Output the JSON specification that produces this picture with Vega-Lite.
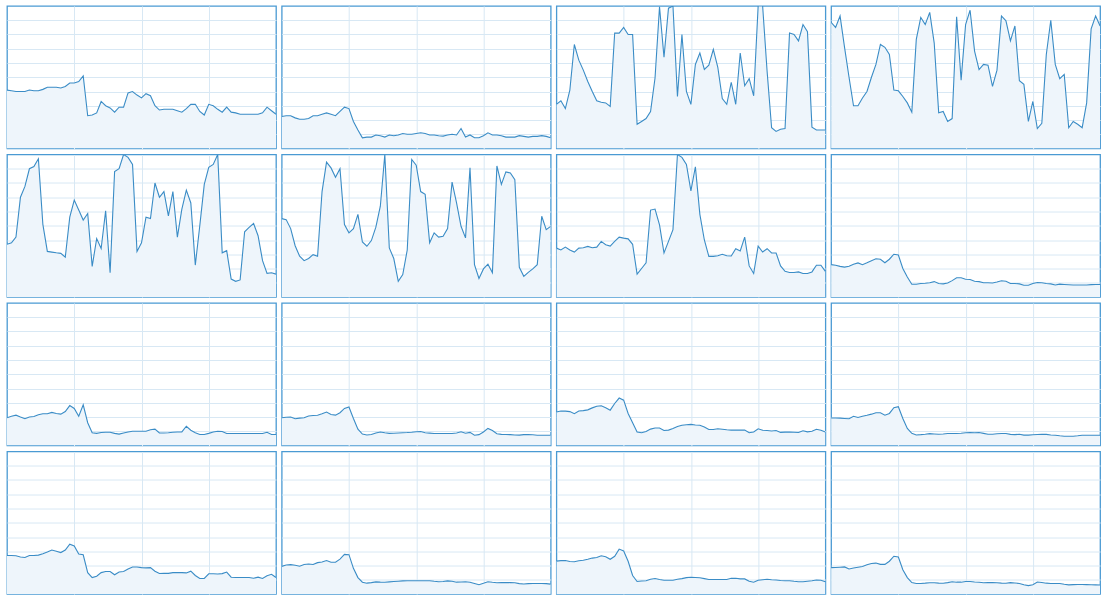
{
"$schema": "https://vega.github.io/schema/vega-lite/v6.json",
"padding": {"left": 6, "top": 5, "right": 0, "bottom": 0},
"background": "white",
"data": {"values": [
{"c":1,"t":0,"v":41},{"c":1,"t":1,"v":40.5},{"c":1,"t":2,"v":40},{"c":1,"t":3,"v":40},{"c":1,"t":4,"v":40},{"c":1,"t":5,"v":41},{"c":1,"t":6,"v":40.5},{"c":1,"t":7,"v":40.5},{"c":1,"t":8,"v":41.5},{"c":1,"t":9,"v":43},{"c":1,"t":10,"v":43},{"c":1,"t":11,"v":43},{"c":1,"t":12,"v":42.5},{"c":1,"t":13,"v":43.5},{"c":1,"t":14,"v":46},{"c":1,"t":15,"v":46},{"c":1,"t":16,"v":47},{"c":1,"t":17,"v":51},{"c":1,"t":18,"v":23},{"c":1,"t":19,"v":23.5},{"c":1,"t":20,"v":25},{"c":1,"t":21,"v":33},{"c":1,"t":22,"v":30},{"c":1,"t":23,"v":28.5},{"c":1,"t":24,"v":25.5},{"c":1,"t":25,"v":29},{"c":1,"t":26,"v":29},{"c":1,"t":27,"v":39},{"c":1,"t":28,"v":40},{"c":1,"t":29,"v":37.5},{"c":1,"t":30,"v":35.5},{"c":1,"t":31,"v":38.5},{"c":1,"t":32,"v":37},{"c":1,"t":33,"v":30},{"c":1,"t":34,"v":27},{"c":1,"t":35,"v":27.5},{"c":1,"t":36,"v":27.5},{"c":1,"t":37,"v":27.5},{"c":1,"t":38,"v":26.5},{"c":1,"t":39,"v":25.5},{"c":1,"t":40,"v":28},{"c":1,"t":41,"v":31},{"c":1,"t":42,"v":31},{"c":1,"t":43,"v":26},{"c":1,"t":44,"v":23.5},{"c":1,"t":45,"v":31},{"c":1,"t":46,"v":30},{"c":1,"t":47,"v":27.5},{"c":1,"t":48,"v":25.5},{"c":1,"t":49,"v":29},{"c":1,"t":50,"v":25.5},{"c":1,"t":51,"v":25},{"c":1,"t":52,"v":24},{"c":1,"t":53,"v":24},{"c":1,"t":54,"v":24},{"c":1,"t":55,"v":24},{"c":1,"t":56,"v":24},{"c":1,"t":57,"v":25},{"c":1,"t":58,"v":29},{"c":1,"t":59,"v":26.5},{"c":1,"t":60,"v":24},
{"c":2,"t":0,"v":22.5},{"c":2,"t":1,"v":23},{"c":2,"t":2,"v":23},{"c":2,"t":3,"v":21.5},{"c":2,"t":4,"v":20.5},{"c":2,"t":5,"v":20.5},{"c":2,"t":6,"v":21},{"c":2,"t":7,"v":23},{"c":2,"t":8,"v":23},{"c":2,"t":9,"v":24},{"c":2,"t":10,"v":25},{"c":2,"t":11,"v":24},{"c":2,"t":12,"v":23},{"c":2,"t":13,"v":26},{"c":2,"t":14,"v":29},{"c":2,"t":15,"v":28},{"c":2,"t":16,"v":19},{"c":2,"t":17,"v":13},{"c":2,"t":18,"v":7.5},{"c":2,"t":19,"v":8},{"c":2,"t":20,"v":8},{"c":2,"t":21,"v":9.5},{"c":2,"t":22,"v":9},{"c":2,"t":23,"v":8},{"c":2,"t":24,"v":9.5},{"c":2,"t":25,"v":9},{"c":2,"t":26,"v":9.5},{"c":2,"t":27,"v":10.5},{"c":2,"t":28,"v":10},{"c":2,"t":29,"v":10},{"c":2,"t":30,"v":10.5},{"c":2,"t":31,"v":11},{"c":2,"t":32,"v":10.5},{"c":2,"t":33,"v":9.5},{"c":2,"t":34,"v":9.5},{"c":2,"t":35,"v":9},{"c":2,"t":36,"v":8.7},{"c":2,"t":37,"v":9.5},{"c":2,"t":38,"v":10},{"c":2,"t":39,"v":9.5},{"c":2,"t":40,"v":14},{"c":2,"t":41,"v":8},{"c":2,"t":42,"v":9.5},{"c":2,"t":43,"v":7.5},{"c":2,"t":44,"v":7.5},{"c":2,"t":45,"v":9},{"c":2,"t":46,"v":11},{"c":2,"t":47,"v":9.5},{"c":2,"t":48,"v":9.5},{"c":2,"t":49,"v":9},{"c":2,"t":50,"v":8},{"c":2,"t":51,"v":8},{"c":2,"t":52,"v":8},{"c":2,"t":53,"v":9},{"c":2,"t":54,"v":8.5},{"c":2,"t":55,"v":8},{"c":2,"t":56,"v":8.5},{"c":2,"t":57,"v":8.5},{"c":2,"t":58,"v":9},{"c":2,"t":59,"v":8.5},{"c":2,"t":60,"v":7.5},
{"c":3,"t":0,"v":31},{"c":3,"t":1,"v":33.5},{"c":3,"t":2,"v":28},{"c":3,"t":3,"v":41},{"c":3,"t":4,"v":73},{"c":3,"t":5,"v":62},{"c":3,"t":6,"v":55},{"c":3,"t":7,"v":47},{"c":3,"t":8,"v":40},{"c":3,"t":9,"v":33.5},{"c":3,"t":10,"v":32.5},{"c":3,"t":11,"v":32},{"c":3,"t":12,"v":29.5},{"c":3,"t":13,"v":81},{"c":3,"t":14,"v":81},{"c":3,"t":15,"v":85},{"c":3,"t":16,"v":80},{"c":3,"t":17,"v":80},{"c":3,"t":18,"v":17},{"c":3,"t":19,"v":19},{"c":3,"t":20,"v":21},{"c":3,"t":21,"v":26},{"c":3,"t":22,"v":49.5},{"c":3,"t":23,"v":99.5},{"c":3,"t":24,"v":64},{"c":3,"t":25,"v":98.5},{"c":3,"t":26,"v":100},{"c":3,"t":27,"v":36.5},{"c":3,"t":28,"v":80},{"c":3,"t":29,"v":40},{"c":3,"t":30,"v":31},{"c":3,"t":31,"v":59},{"c":3,"t":32,"v":67},{"c":3,"t":33,"v":55.5},{"c":3,"t":34,"v":58.5},{"c":3,"t":35,"v":69.5},{"c":3,"t":36,"v":57},{"c":3,"t":37,"v":35},{"c":3,"t":38,"v":31},{"c":3,"t":39,"v":46.5},{"c":3,"t":40,"v":31},{"c":3,"t":41,"v":67},{"c":3,"t":42,"v":44},{"c":3,"t":43,"v":49},{"c":3,"t":44,"v":37},{"c":3,"t":45,"v":100},{"c":3,"t":46,"v":100},{"c":3,"t":47,"v":54},{"c":3,"t":48,"v":14.6},{"c":3,"t":49,"v":12},{"c":3,"t":50,"v":13.5},{"c":3,"t":51,"v":14},{"c":3,"t":52,"v":81},{"c":3,"t":53,"v":80},{"c":3,"t":54,"v":75.5},{"c":3,"t":55,"v":87},{"c":3,"t":56,"v":82},{"c":3,"t":57,"v":15},{"c":3,"t":58,"v":13},{"c":3,"t":59,"v":13},{"c":3,"t":60,"v":13},
{"c":4,"t":0,"v":88.5},{"c":4,"t":1,"v":85},{"c":4,"t":2,"v":93},{"c":4,"t":3,"v":71},{"c":4,"t":4,"v":50},{"c":4,"t":5,"v":30},{"c":4,"t":6,"v":30},{"c":4,"t":7,"v":35.4},{"c":4,"t":8,"v":40},{"c":4,"t":9,"v":50},{"c":4,"t":10,"v":59},{"c":4,"t":11,"v":73},{"c":4,"t":12,"v":71},{"c":4,"t":13,"v":66},{"c":4,"t":14,"v":41},{"c":4,"t":15,"v":40.5},{"c":4,"t":16,"v":36.5},{"c":4,"t":17,"v":32},{"c":4,"t":18,"v":25.5},{"c":4,"t":19,"v":76.6},{"c":4,"t":20,"v":92},{"c":4,"t":21,"v":87},{"c":4,"t":22,"v":95.5},{"c":4,"t":23,"v":74},{"c":4,"t":24,"v":25},{"c":4,"t":25,"v":26},{"c":4,"t":26,"v":19},{"c":4,"t":27,"v":21},{"c":4,"t":28,"v":92.5},{"c":4,"t":29,"v":48},{"c":4,"t":30,"v":87},{"c":4,"t":31,"v":97},{"c":4,"t":32,"v":68.4},{"c":4,"t":33,"v":55.4},{"c":4,"t":34,"v":59},{"c":4,"t":35,"v":58.5},{"c":4,"t":36,"v":43.6},{"c":4,"t":37,"v":55},{"c":4,"t":38,"v":93},{"c":4,"t":39,"v":89.6},{"c":4,"t":40,"v":75.5},{"c":4,"t":41,"v":86},{"c":4,"t":42,"v":47.6},{"c":4,"t":43,"v":45},{"c":4,"t":44,"v":19},{"c":4,"t":45,"v":33},{"c":4,"t":46,"v":14},{"c":4,"t":47,"v":17.7},{"c":4,"t":48,"v":66},{"c":4,"t":49,"v":90},{"c":4,"t":50,"v":59},{"c":4,"t":51,"v":49},{"c":4,"t":52,"v":52},{"c":4,"t":53,"v":14.6},{"c":4,"t":54,"v":19},{"c":4,"t":55,"v":17},{"c":4,"t":56,"v":14.6},{"c":4,"t":57,"v":32},{"c":4,"t":58,"v":84},{"c":4,"t":59,"v":93},{"c":4,"t":60,"v":86},
{"c":5,"t":0,"v":37},{"c":5,"t":1,"v":38},{"c":5,"t":2,"v":42},{"c":5,"t":3,"v":70},{"c":5,"t":4,"v":77.6},{"c":5,"t":5,"v":90},{"c":5,"t":6,"v":91.6},{"c":5,"t":7,"v":97},{"c":5,"t":8,"v":51},{"c":5,"t":9,"v":32},{"c":5,"t":10,"v":31.5},{"c":5,"t":11,"v":31},{"c":5,"t":12,"v":30.6},{"c":5,"t":13,"v":28},{"c":5,"t":14,"v":56},{"c":5,"t":15,"v":68},{"c":5,"t":16,"v":61},{"c":5,"t":17,"v":54},{"c":5,"t":18,"v":58.6},{"c":5,"t":19,"v":21.5},{"c":5,"t":20,"v":41},{"c":5,"t":21,"v":34},{"c":5,"t":22,"v":60.5},{"c":5,"t":23,"v":17},{"c":5,"t":24,"v":88},{"c":5,"t":25,"v":90},{"c":5,"t":26,"v":100},{"c":5,"t":27,"v":98},{"c":5,"t":28,"v":93},{"c":5,"t":29,"v":32},{"c":5,"t":30,"v":38},{"c":5,"t":31,"v":56},{"c":5,"t":32,"v":55},{"c":5,"t":33,"v":80},{"c":5,"t":34,"v":70},{"c":5,"t":35,"v":74},{"c":5,"t":36,"v":57},{"c":5,"t":37,"v":74},{"c":5,"t":38,"v":42},{"c":5,"t":39,"v":61.7},{"c":5,"t":40,"v":75},{"c":5,"t":41,"v":66},{"c":5,"t":42,"v":22.4},{"c":5,"t":43,"v":50},{"c":5,"t":44,"v":79},{"c":5,"t":45,"v":91},{"c":5,"t":46,"v":93},{"c":5,"t":47,"v":100},{"c":5,"t":48,"v":31},{"c":5,"t":49,"v":32.5},{"c":5,"t":50,"v":12.6},{"c":5,"t":51,"v":11},{"c":5,"t":52,"v":12},{"c":5,"t":53,"v":45.8},{"c":5,"t":54,"v":48.8},{"c":5,"t":55,"v":51.6},{"c":5,"t":56,"v":43},{"c":5,"t":57,"v":25.5},{"c":5,"t":58,"v":16.6},{"c":5,"t":59,"v":17},{"c":5,"t":60,"v":16},
{"c":6,"t":0,"v":55},{"c":6,"t":1,"v":54.3},{"c":6,"t":2,"v":48},{"c":6,"t":3,"v":36},{"c":6,"t":4,"v":28.6},{"c":6,"t":5,"v":25.5},{"c":6,"t":6,"v":27},{"c":6,"t":7,"v":29.7},{"c":6,"t":8,"v":28.6},{"c":6,"t":9,"v":74},{"c":6,"t":10,"v":94.6},{"c":6,"t":11,"v":90.6},{"c":6,"t":12,"v":84},{"c":6,"t":13,"v":90},{"c":6,"t":14,"v":50.8},{"c":6,"t":15,"v":45},{"c":6,"t":16,"v":48},{"c":6,"t":17,"v":58},{"c":6,"t":18,"v":38.6},{"c":6,"t":19,"v":35.6},{"c":6,"t":20,"v":39.6},{"c":6,"t":21,"v":49},{"c":6,"t":22,"v":63.7},{"c":6,"t":23,"v":100},{"c":6,"t":24,"v":34.4},{"c":6,"t":25,"v":27},{"c":6,"t":26,"v":11},{"c":6,"t":27,"v":15.7},{"c":6,"t":28,"v":33},{"c":6,"t":29,"v":96.5},{"c":6,"t":30,"v":92.5},{"c":6,"t":31,"v":74},{"c":6,"t":32,"v":72},{"c":6,"t":33,"v":38},{"c":6,"t":34,"v":45},{"c":6,"t":35,"v":42},{"c":6,"t":36,"v":42.6},{"c":6,"t":37,"v":48},{"c":6,"t":38,"v":80.6},{"c":6,"t":39,"v":66},{"c":6,"t":40,"v":49.6},{"c":6,"t":41,"v":41.5},{"c":6,"t":42,"v":90.6},{"c":6,"t":43,"v":22.7},{"c":6,"t":44,"v":13},{"c":6,"t":45,"v":19.7},{"c":6,"t":46,"v":23},{"c":6,"t":47,"v":17},{"c":6,"t":48,"v":92},{"c":6,"t":49,"v":79},{"c":6,"t":50,"v":87.8},{"c":6,"t":51,"v":87},{"c":6,"t":52,"v":82.4},{"c":6,"t":53,"v":20.8},{"c":6,"t":54,"v":14.5},{"c":6,"t":55,"v":17.3},{"c":6,"t":56,"v":19.7},{"c":6,"t":57,"v":22.7},{"c":6,"t":58,"v":56.7},{"c":6,"t":59,"v":47.3},{"c":6,"t":60,"v":49.6},
{"c":7,"t":0,"v":34.3},{"c":7,"t":1,"v":33},{"c":7,"t":2,"v":35},{"c":7,"t":3,"v":33},{"c":7,"t":4,"v":31.5},{"c":7,"t":5,"v":34.3},{"c":7,"t":6,"v":34.6},{"c":7,"t":7,"v":35.5},{"c":7,"t":8,"v":34.6},{"c":7,"t":9,"v":35},{"c":7,"t":10,"v":39},{"c":7,"t":11,"v":36.7},{"c":7,"t":12,"v":35.7},{"c":7,"t":13,"v":39},{"c":7,"t":14,"v":42},{"c":7,"t":15,"v":41.3},{"c":7,"t":16,"v":40.8},{"c":7,"t":17,"v":37},{"c":7,"t":18,"v":16},{"c":7,"t":19,"v":20},{"c":7,"t":20,"v":24},{"c":7,"t":21,"v":61},{"c":7,"t":22,"v":61.7},{"c":7,"t":23,"v":50.6},{"c":7,"t":24,"v":30.9},{"c":7,"t":25,"v":39},{"c":7,"t":26,"v":47.3},{"c":7,"t":27,"v":100},{"c":7,"t":28,"v":98},{"c":7,"t":29,"v":93},{"c":7,"t":30,"v":74.5},{"c":7,"t":31,"v":91.4},{"c":7,"t":32,"v":58},{"c":7,"t":33,"v":40},{"c":7,"t":34,"v":28.5},{"c":7,"t":35,"v":28.5},{"c":7,"t":36,"v":29},{"c":7,"t":37,"v":30},{"c":7,"t":38,"v":29},{"c":7,"t":39,"v":28.8},{"c":7,"t":40,"v":33.9},{"c":7,"t":41,"v":32.3},{"c":7,"t":42,"v":42},{"c":7,"t":43,"v":21.8},{"c":7,"t":44,"v":16.5},{"c":7,"t":45,"v":35.7},{"c":7,"t":46,"v":31.6},{"c":7,"t":47,"v":33.9},{"c":7,"t":48,"v":30.9},{"c":7,"t":49,"v":30.9},{"c":7,"t":50,"v":21.8},{"c":7,"t":51,"v":18},{"c":7,"t":52,"v":17.2},{"c":7,"t":53,"v":17.2},{"c":7,"t":54,"v":17.6},{"c":7,"t":55,"v":16.5},{"c":7,"t":56,"v":16.5},{"c":7,"t":57,"v":17.6},{"c":7,"t":58,"v":22.3},{"c":7,"t":59,"v":22.3},{"c":7,"t":60,"v":18},
{"c":8,"t":0,"v":22.7},{"c":8,"t":1,"v":22.3},{"c":8,"t":2,"v":21.5},{"c":8,"t":3,"v":21},{"c":8,"t":4,"v":21.6},{"c":8,"t":5,"v":23},{"c":8,"t":6,"v":23.9},{"c":8,"t":7,"v":22.7},{"c":8,"t":8,"v":24},{"c":8,"t":9,"v":25.5},{"c":8,"t":10,"v":26.8},{"c":8,"t":11,"v":26.5},{"c":8,"t":12,"v":24},{"c":8,"t":13,"v":26.5},{"c":8,"t":14,"v":30},{"c":8,"t":15,"v":29.5},{"c":8,"t":16,"v":20},{"c":8,"t":17,"v":14},{"c":8,"t":18,"v":9},{"c":8,"t":19,"v":9},{"c":8,"t":20,"v":9.5},{"c":8,"t":21,"v":9.7},{"c":8,"t":22,"v":10},{"c":8,"t":23,"v":10.8},{"c":8,"t":24,"v":9.5},{"c":8,"t":25,"v":9.2},{"c":8,"t":26,"v":9.8},{"c":8,"t":27,"v":11.5},{"c":8,"t":28,"v":13.5},{"c":8,"t":29,"v":13.5},{"c":8,"t":30,"v":12.5},{"c":8,"t":31,"v":12.3},{"c":8,"t":32,"v":11},{"c":8,"t":33,"v":10.8},{"c":8,"t":34,"v":10},{"c":8,"t":35,"v":10},{"c":8,"t":36,"v":9.8},{"c":8,"t":37,"v":10.5},{"c":8,"t":38,"v":11.4},{"c":8,"t":39,"v":11},{"c":8,"t":40,"v":9.5},{"c":8,"t":41,"v":9.5},{"c":8,"t":42,"v":9.2},{"c":8,"t":43,"v":8.2},{"c":8,"t":44,"v":8.2},{"c":8,"t":45,"v":9.5},{"c":8,"t":46,"v":10.2},{"c":8,"t":47,"v":10},{"c":8,"t":48,"v":9.5},{"c":8,"t":49,"v":9.2},{"c":8,"t":50,"v":8.4},{"c":8,"t":51,"v":9},{"c":8,"t":52,"v":8.8},{"c":8,"t":53,"v":8.6},{"c":8,"t":54,"v":8.4},{"c":8,"t":55,"v":8.4},{"c":8,"t":56,"v":8.4},{"c":8,"t":57,"v":8.4},{"c":8,"t":58,"v":8.7},{"c":8,"t":59,"v":8.8},{"c":8,"t":60,"v":8.8},
{"c":9,"t":0,"v":19.5},{"c":9,"t":1,"v":20.5},{"c":9,"t":2,"v":21.3},{"c":9,"t":3,"v":20},{"c":9,"t":4,"v":18.8},{"c":9,"t":5,"v":20},{"c":9,"t":6,"v":20.4},{"c":9,"t":7,"v":21.6},{"c":9,"t":8,"v":22.3},{"c":9,"t":9,"v":22.3},{"c":9,"t":10,"v":23.2},{"c":9,"t":11,"v":22.5},{"c":9,"t":12,"v":22},{"c":9,"t":13,"v":23.8},{"c":9,"t":14,"v":28},{"c":9,"t":15,"v":26},{"c":9,"t":16,"v":20.5},{"c":9,"t":17,"v":28.5},{"c":9,"t":18,"v":16},{"c":9,"t":19,"v":9},{"c":9,"t":20,"v":8.5},{"c":9,"t":21,"v":9.1},{"c":9,"t":22,"v":9.3},{"c":9,"t":23,"v":9.3},{"c":9,"t":24,"v":8.5},{"c":9,"t":25,"v":8},{"c":9,"t":26,"v":8.8},{"c":9,"t":27,"v":9.5},{"c":9,"t":28,"v":10},{"c":9,"t":29,"v":10},{"c":9,"t":30,"v":10},{"c":9,"t":31,"v":10},{"c":9,"t":32,"v":11},{"c":9,"t":33,"v":11.5},{"c":9,"t":34,"v":8.8},{"c":9,"t":35,"v":8.8},{"c":9,"t":36,"v":9},{"c":9,"t":37,"v":9.3},{"c":9,"t":38,"v":9.5},{"c":9,"t":39,"v":9.5},{"c":9,"t":40,"v":13.5},{"c":9,"t":41,"v":10.7},{"c":9,"t":42,"v":9},{"c":9,"t":43,"v":7.7},{"c":9,"t":44,"v":7.7},{"c":9,"t":45,"v":8.5},{"c":9,"t":46,"v":9.5},{"c":9,"t":47,"v":10},{"c":9,"t":48,"v":9.8},{"c":9,"t":49,"v":8.4},{"c":9,"t":50,"v":8.4},{"c":9,"t":51,"v":8.4},{"c":9,"t":52,"v":8.4},{"c":9,"t":53,"v":8.4},{"c":9,"t":54,"v":8.4},{"c":9,"t":55,"v":8.4},{"c":9,"t":56,"v":8.4},{"c":9,"t":57,"v":8.4},{"c":9,"t":58,"v":9.3},{"c":9,"t":59,"v":7.7},{"c":9,"t":60,"v":7.7},
{"c":10,"t":0,"v":19.5},{"c":10,"t":1,"v":19.8},{"c":10,"t":2,"v":20},{"c":10,"t":3,"v":18.8},{"c":10,"t":4,"v":19.2},{"c":10,"t":5,"v":19.5},{"c":10,"t":6,"v":20.7},{"c":10,"t":7,"v":21},{"c":10,"t":8,"v":21.2},{"c":10,"t":9,"v":22.3},{"c":10,"t":10,"v":23.5},{"c":10,"t":11,"v":21.8},{"c":10,"t":12,"v":21.3},{"c":10,"t":13,"v":23},{"c":10,"t":14,"v":26},{"c":10,"t":15,"v":27},{"c":10,"t":16,"v":19},{"c":10,"t":17,"v":11.5},{"c":10,"t":18,"v":8},{"c":10,"t":19,"v":7.4},{"c":10,"t":20,"v":7.7},{"c":10,"t":21,"v":8.8},{"c":10,"t":22,"v":9.5},{"c":10,"t":23,"v":8.9},{"c":10,"t":24,"v":8.5},{"c":10,"t":25,"v":8.6},{"c":10,"t":26,"v":8.8},{"c":10,"t":27,"v":9},{"c":10,"t":28,"v":9.1},{"c":10,"t":29,"v":9.3},{"c":10,"t":30,"v":9.6},{"c":10,"t":31,"v":9.8},{"c":10,"t":32,"v":9},{"c":10,"t":33,"v":8.7},{"c":10,"t":34,"v":8.4},{"c":10,"t":35,"v":8.4},{"c":10,"t":36,"v":8.4},{"c":10,"t":37,"v":8.4},{"c":10,"t":38,"v":8.4},{"c":10,"t":39,"v":8.8},{"c":10,"t":40,"v":9.6},{"c":10,"t":41,"v":8.6},{"c":10,"t":42,"v":9.2},{"c":10,"t":43,"v":7.2},{"c":10,"t":44,"v":7.6},{"c":10,"t":45,"v":9.5},{"c":10,"t":46,"v":12},{"c":10,"t":47,"v":10.5},{"c":10,"t":48,"v":8.3},{"c":10,"t":49,"v":7.8},{"c":10,"t":50,"v":7.7},{"c":10,"t":51,"v":7.6},{"c":10,"t":52,"v":7.4},{"c":10,"t":53,"v":7.3},{"c":10,"t":54,"v":7.6},{"c":10,"t":55,"v":7.7},{"c":10,"t":56,"v":7.5},{"c":10,"t":57,"v":7.2},{"c":10,"t":58,"v":7.2},{"c":10,"t":59,"v":7.2},{"c":10,"t":60,"v":7.2},
{"c":11,"t":0,"v":23.5},{"c":11,"t":1,"v":24.2},{"c":11,"t":2,"v":24.1},{"c":11,"t":3,"v":23.8},{"c":11,"t":4,"v":22.3},{"c":11,"t":5,"v":24.2},{"c":11,"t":6,"v":24.5},{"c":11,"t":7,"v":25},{"c":11,"t":8,"v":26.4},{"c":11,"t":9,"v":27.6},{"c":11,"t":10,"v":27.9},{"c":11,"t":11,"v":26.5},{"c":11,"t":12,"v":24.8},{"c":11,"t":13,"v":29.5},{"c":11,"t":14,"v":33.3},{"c":11,"t":15,"v":31.8},{"c":11,"t":16,"v":22.5},{"c":11,"t":17,"v":16},{"c":11,"t":18,"v":9.5},{"c":11,"t":19,"v":9},{"c":11,"t":20,"v":9.8},{"c":11,"t":21,"v":11.5},{"c":11,"t":22,"v":12.3},{"c":11,"t":23,"v":12.3},{"c":11,"t":24,"v":10.5},{"c":11,"t":25,"v":10.8},{"c":11,"t":26,"v":11.9},{"c":11,"t":27,"v":13.3},{"c":11,"t":28,"v":14.2},{"c":11,"t":29,"v":14.6},{"c":11,"t":30,"v":14.8},{"c":11,"t":31,"v":14.4},{"c":11,"t":32,"v":14.2},{"c":11,"t":33,"v":13},{"c":11,"t":34,"v":11.2},{"c":11,"t":35,"v":11.2},{"c":11,"t":36,"v":11.8},{"c":11,"t":37,"v":11.4},{"c":11,"t":38,"v":11},{"c":11,"t":39,"v":10.8},{"c":11,"t":40,"v":10.9},{"c":11,"t":41,"v":10.8},{"c":11,"t":42,"v":10.8},{"c":11,"t":43,"v":9},{"c":11,"t":44,"v":9.5},{"c":11,"t":45,"v":11.7},{"c":11,"t":46,"v":10.7},{"c":11,"t":47,"v":10.5},{"c":11,"t":48,"v":10.2},{"c":11,"t":49,"v":10.5},{"c":11,"t":50,"v":9.2},{"c":11,"t":51,"v":9.4},{"c":11,"t":52,"v":9.4},{"c":11,"t":53,"v":9.3},{"c":11,"t":54,"v":9.1},{"c":11,"t":55,"v":10.3},{"c":11,"t":56,"v":9.6},{"c":11,"t":57,"v":10},{"c":11,"t":58,"v":11.4},{"c":11,"t":59,"v":10.7},{"c":11,"t":60,"v":9.5},
{"c":12,"t":0,"v":19.3},{"c":12,"t":1,"v":19.3},{"c":12,"t":2,"v":19.2},{"c":12,"t":3,"v":19},{"c":12,"t":4,"v":18.8},{"c":12,"t":5,"v":20.5},{"c":12,"t":6,"v":19.7},{"c":12,"t":7,"v":20.5},{"c":12,"t":8,"v":21.2},{"c":12,"t":9,"v":22},{"c":12,"t":10,"v":23},{"c":12,"t":11,"v":23},{"c":12,"t":12,"v":21.3},{"c":12,"t":13,"v":22.5},{"c":12,"t":14,"v":26.5},{"c":12,"t":15,"v":27.2},{"c":12,"t":16,"v":19},{"c":12,"t":17,"v":12},{"c":12,"t":18,"v":8.5},{"c":12,"t":19,"v":7.4},{"c":12,"t":20,"v":7.6},{"c":12,"t":21,"v":7.9},{"c":12,"t":22,"v":8.3},{"c":12,"t":23,"v":8.1},{"c":12,"t":24,"v":7.9},{"c":12,"t":25,"v":8.1},{"c":12,"t":26,"v":8.4},{"c":12,"t":27,"v":8.4},{"c":12,"t":28,"v":8.4},{"c":12,"t":29,"v":8.6},{"c":12,"t":30,"v":9},{"c":12,"t":31,"v":9.1},{"c":12,"t":32,"v":8.9},{"c":12,"t":33,"v":9.1},{"c":12,"t":34,"v":8.5},{"c":12,"t":35,"v":7.9},{"c":12,"t":36,"v":7.9},{"c":12,"t":37,"v":8.2},{"c":12,"t":38,"v":8.4},{"c":12,"t":39,"v":8.4},{"c":12,"t":40,"v":7.8},{"c":12,"t":41,"v":7.6},{"c":12,"t":42,"v":7.9},{"c":12,"t":43,"v":7.3},{"c":12,"t":44,"v":7.3},{"c":12,"t":45,"v":7.5},{"c":12,"t":46,"v":7.7},{"c":12,"t":47,"v":7.8},{"c":12,"t":48,"v":7.8},{"c":12,"t":49,"v":7.4},{"c":12,"t":50,"v":7.2},{"c":12,"t":51,"v":6.8},{"c":12,"t":52,"v":6.5},{"c":12,"t":53,"v":6.5},{"c":12,"t":54,"v":6.5},{"c":12,"t":55,"v":6.8},{"c":12,"t":56,"v":7.2},{"c":12,"t":57,"v":7.2},{"c":12,"t":58,"v":7.2},{"c":12,"t":59,"v":7.2},{"c":12,"t":60,"v":7.2},
{"c":13,"t":0,"v":27},{"c":13,"t":1,"v":27},{"c":13,"t":2,"v":26.8},{"c":13,"t":3,"v":26},{"c":13,"t":4,"v":25.6},{"c":13,"t":5,"v":27},{"c":13,"t":6,"v":27},{"c":13,"t":7,"v":27.3},{"c":13,"t":8,"v":28.2},{"c":13,"t":9,"v":29.4},{"c":13,"t":10,"v":30.9},{"c":13,"t":11,"v":30},{"c":13,"t":12,"v":29.1},{"c":13,"t":13,"v":30.9},{"c":13,"t":14,"v":35},{"c":13,"t":15,"v":33.7},{"c":13,"t":16,"v":28},{"c":13,"t":17,"v":27.5},{"c":13,"t":18,"v":15},{"c":13,"t":19,"v":11.5},{"c":13,"t":20,"v":12.5},{"c":13,"t":21,"v":15},{"c":13,"t":22,"v":15.8},{"c":13,"t":23,"v":15.8},{"c":13,"t":24,"v":13.5},{"c":13,"t":25,"v":15.5},{"c":13,"t":26,"v":15.8},{"c":13,"t":27,"v":17.5},{"c":13,"t":28,"v":19},{"c":13,"t":29,"v":19},{"c":13,"t":30,"v":18.5},{"c":13,"t":31,"v":18.3},{"c":13,"t":32,"v":18.5},{"c":13,"t":33,"v":16},{"c":13,"t":34,"v":14.4},{"c":13,"t":35,"v":14.6},{"c":13,"t":36,"v":14.5},{"c":13,"t":37,"v":15},{"c":13,"t":38,"v":15},{"c":13,"t":39,"v":15},{"c":13,"t":40,"v":14.8},{"c":13,"t":41,"v":16},{"c":13,"t":42,"v":13},{"c":13,"t":43,"v":10.9},{"c":13,"t":44,"v":10.9},{"c":13,"t":45,"v":14.2},{"c":13,"t":46,"v":14.2},{"c":13,"t":47,"v":14},{"c":13,"t":48,"v":14.3},{"c":13,"t":49,"v":15.4},{"c":13,"t":50,"v":11.8},{"c":13,"t":51,"v":11.6},{"c":13,"t":52,"v":11.6},{"c":13,"t":53,"v":11.6},{"c":13,"t":54,"v":11.6},{"c":13,"t":55,"v":11.1},{"c":13,"t":56,"v":11.8},{"c":13,"t":57,"v":10.9},{"c":13,"t":58,"v":12.8},{"c":13,"t":59,"v":13.8},{"c":13,"t":60,"v":11.6},
{"c":14,"t":0,"v":19.4},{"c":14,"t":1,"v":20.3},{"c":14,"t":2,"v":20.6},{"c":14,"t":3,"v":20.2},{"c":14,"t":4,"v":19.5},{"c":14,"t":5,"v":20.7},{"c":14,"t":6,"v":21},{"c":14,"t":7,"v":20.7},{"c":14,"t":8,"v":22},{"c":14,"t":9,"v":22.5},{"c":14,"t":10,"v":23.5},{"c":14,"t":11,"v":22.3},{"c":14,"t":12,"v":22.3},{"c":14,"t":13,"v":24.5},{"c":14,"t":14,"v":27.8},{"c":14,"t":15,"v":27.6},{"c":14,"t":16,"v":18},{"c":14,"t":17,"v":11.5},{"c":14,"t":18,"v":8.3},{"c":14,"t":19,"v":7.6},{"c":14,"t":20,"v":8},{"c":14,"t":21,"v":8.5},{"c":14,"t":22,"v":8.3},{"c":14,"t":23,"v":8.2},{"c":14,"t":24,"v":8.5},{"c":14,"t":25,"v":8.8},{"c":14,"t":26,"v":9},{"c":14,"t":27,"v":9.2},{"c":14,"t":28,"v":9.3},{"c":14,"t":29,"v":9.3},{"c":14,"t":30,"v":9.3},{"c":14,"t":31,"v":9.3},{"c":14,"t":32,"v":9.3},{"c":14,"t":33,"v":9.3},{"c":14,"t":34,"v":8.9},{"c":14,"t":35,"v":8.6},{"c":14,"t":36,"v":8.8},{"c":14,"t":37,"v":9.2},{"c":14,"t":38,"v":9},{"c":14,"t":39,"v":8.3},{"c":14,"t":40,"v":8.4},{"c":14,"t":41,"v":8.6},{"c":14,"t":42,"v":8.2},{"c":14,"t":43,"v":7.4},{"c":14,"t":44,"v":6.5},{"c":14,"t":45,"v":7.5},{"c":14,"t":46,"v":8.6},{"c":14,"t":47,"v":8.2},{"c":14,"t":48,"v":7.9},{"c":14,"t":49,"v":8},{"c":14,"t":50,"v":8.1},{"c":14,"t":51,"v":8},{"c":14,"t":52,"v":7.9},{"c":14,"t":53,"v":7.3},{"c":14,"t":54,"v":7},{"c":14,"t":55,"v":7.3},{"c":14,"t":56,"v":7.4},{"c":14,"t":57,"v":7.4},{"c":14,"t":58,"v":7.4},{"c":14,"t":59,"v":7.3},{"c":14,"t":60,"v":6.9},
{"c":15,"t":0,"v":23.1},{"c":15,"t":1,"v":23.4},{"c":15,"t":2,"v":23.5},{"c":15,"t":3,"v":22.8},{"c":15,"t":4,"v":22.6},{"c":15,"t":5,"v":23.3},{"c":15,"t":6,"v":23.7},{"c":15,"t":7,"v":24.4},{"c":15,"t":8,"v":25.2},{"c":15,"t":9,"v":25.6},{"c":15,"t":10,"v":26.8},{"c":15,"t":11,"v":26.2},{"c":15,"t":12,"v":24.4},{"c":15,"t":13,"v":26.5},{"c":15,"t":14,"v":31.5},{"c":15,"t":15,"v":30.2},{"c":15,"t":16,"v":23},{"c":15,"t":17,"v":13},{"c":15,"t":18,"v":8.8},{"c":15,"t":19,"v":9.1},{"c":15,"t":20,"v":9.3},{"c":15,"t":21,"v":10.3},{"c":15,"t":22,"v":10.9},{"c":15,"t":23,"v":10.2},{"c":15,"t":24,"v":9.7},{"c":15,"t":25,"v":9.7},{"c":15,"t":26,"v":9.7},{"c":15,"t":27,"v":10.3},{"c":15,"t":28,"v":10.8},{"c":15,"t":29,"v":11.5},{"c":15,"t":30,"v":11.8},{"c":15,"t":31,"v":11.6},{"c":15,"t":32,"v":11.4},{"c":15,"t":33,"v":10.8},{"c":15,"t":34,"v":10.2},{"c":15,"t":35,"v":10.2},{"c":15,"t":36,"v":10.2},{"c":15,"t":37,"v":10.2},{"c":15,"t":38,"v":10.2},{"c":15,"t":39,"v":11},{"c":15,"t":40,"v":11},{"c":15,"t":41,"v":10.6},{"c":15,"t":42,"v":10.6},{"c":15,"t":43,"v":9},{"c":15,"t":44,"v":8.3},{"c":15,"t":45,"v":9.6},{"c":15,"t":46,"v":10},{"c":15,"t":47,"v":10.3},{"c":15,"t":48,"v":10},{"c":15,"t":49,"v":9.8},{"c":15,"t":50,"v":9.5},{"c":15,"t":51,"v":9.3},{"c":15,"t":52,"v":9.3},{"c":15,"t":53,"v":8.9},{"c":15,"t":54,"v":8.6},{"c":15,"t":55,"v":8.6},{"c":15,"t":56,"v":9},{"c":15,"t":57,"v":9.3},{"c":15,"t":58,"v":9.8},{"c":15,"t":59,"v":9.7},{"c":15,"t":60,"v":8.6},
{"c":16,"t":0,"v":18.5},{"c":16,"t":1,"v":18.6},{"c":16,"t":2,"v":18.8},{"c":16,"t":3,"v":19},{"c":16,"t":4,"v":17.6},{"c":16,"t":5,"v":18.3},{"c":16,"t":6,"v":18.8},{"c":16,"t":7,"v":19.3},{"c":16,"t":8,"v":20.5},{"c":16,"t":9,"v":21.4},{"c":16,"t":10,"v":21.7},{"c":16,"t":11,"v":20.8},{"c":16,"t":12,"v":20.8},{"c":16,"t":13,"v":23},{"c":16,"t":14,"v":26.5},{"c":16,"t":15,"v":26},{"c":16,"t":16,"v":17},{"c":16,"t":17,"v":11.5},{"c":16,"t":18,"v":8},{"c":16,"t":19,"v":7.4},{"c":16,"t":20,"v":7.4},{"c":16,"t":21,"v":7.6},{"c":16,"t":22,"v":7.9},{"c":16,"t":23,"v":7.9},{"c":16,"t":24,"v":7.6},{"c":16,"t":25,"v":7.5},{"c":16,"t":26,"v":8},{"c":16,"t":27,"v":8.6},{"c":16,"t":28,"v":8.3},{"c":16,"t":29,"v":8.3},{"c":16,"t":30,"v":8.8},{"c":16,"t":31,"v":8.8},{"c":16,"t":32,"v":8.4},{"c":16,"t":33,"v":8.2},{"c":16,"t":34,"v":7.9},{"c":16,"t":35,"v":8},{"c":16,"t":36,"v":8.1},{"c":16,"t":37,"v":7.9},{"c":16,"t":38,"v":7.6},{"c":16,"t":39,"v":7.5},{"c":16,"t":40,"v":8},{"c":16,"t":41,"v":7.7},{"c":16,"t":42,"v":7.4},{"c":16,"t":43,"v":6.5},{"c":16,"t":44,"v":5.9},{"c":16,"t":45,"v":6.5},{"c":16,"t":46,"v":8.4},{"c":16,"t":47,"v":8.1},{"c":16,"t":48,"v":7.6},{"c":16,"t":49,"v":7.4},{"c":16,"t":50,"v":7.4},{"c":16,"t":51,"v":7.4},{"c":16,"t":52,"v":6.8},{"c":16,"t":53,"v":6.4},{"c":16,"t":54,"v":6.6},{"c":16,"t":55,"v":6.7},{"c":16,"t":56,"v":6.7},{"c":16,"t":57,"v":6.6},{"c":16,"t":58,"v":6.5},{"c":16,"t":59,"v":6.4},{"c":16,"t":60,"v":6.3}
]},
"columns": 4,
"spacing": {"row": 3.5, "column": 3.7},
"facet": {"field": "c", "type": "ordinal", "title": null, "header": {"title": null, "labels": false, "labelExpr": "''", "labelFontSize": 0, "labelPadding": 0, "titlePadding": 0}},
"spec": {
  "width": 269,
  "height": 142.5,
  "mark": {"type": "area", "fill": "#eef5fb", "fillOpacity": 1, "clip": true, "line": {"stroke": "#3a8cc6", "strokeWidth": 1.1}},
  "encoding": {
    "x": {"field": "t", "type": "quantitative", "scale": {"domain": [0, 60], "nice": false, "zero": false},
          "axis": {"values": [15, 30, 45], "grid": true, "labels": false, "ticks": false, "domain": false, "title": null, "minExtent": 0, "maxExtent": 0}},
    "y": {"field": "v", "type": "quantitative", "stack": null, "scale": {"domain": [0, 100], "nice": false},
          "axis": {"values": [10, 20, 30, 40, 50, 60, 70, 80, 90], "grid": true, "labels": false, "ticks": false, "domain": false, "title": null, "minExtent": 0, "maxExtent": 0}}
  }
},
"config": {
  "view": {"stroke": "#4a9ad3", "strokeWidth": 1.3},
  "header": {"labels": false, "title": null, "labelFontSize": 0, "labelPadding": 0, "titlePadding": 0},
  "headerFacet": {"labels": false, "title": null, "labelFontSize": 0, "labelPadding": 0},
  "axis": {"gridColor": "#d8e8f4", "gridWidth": 1, "gridOpacity": 1}
}
}
